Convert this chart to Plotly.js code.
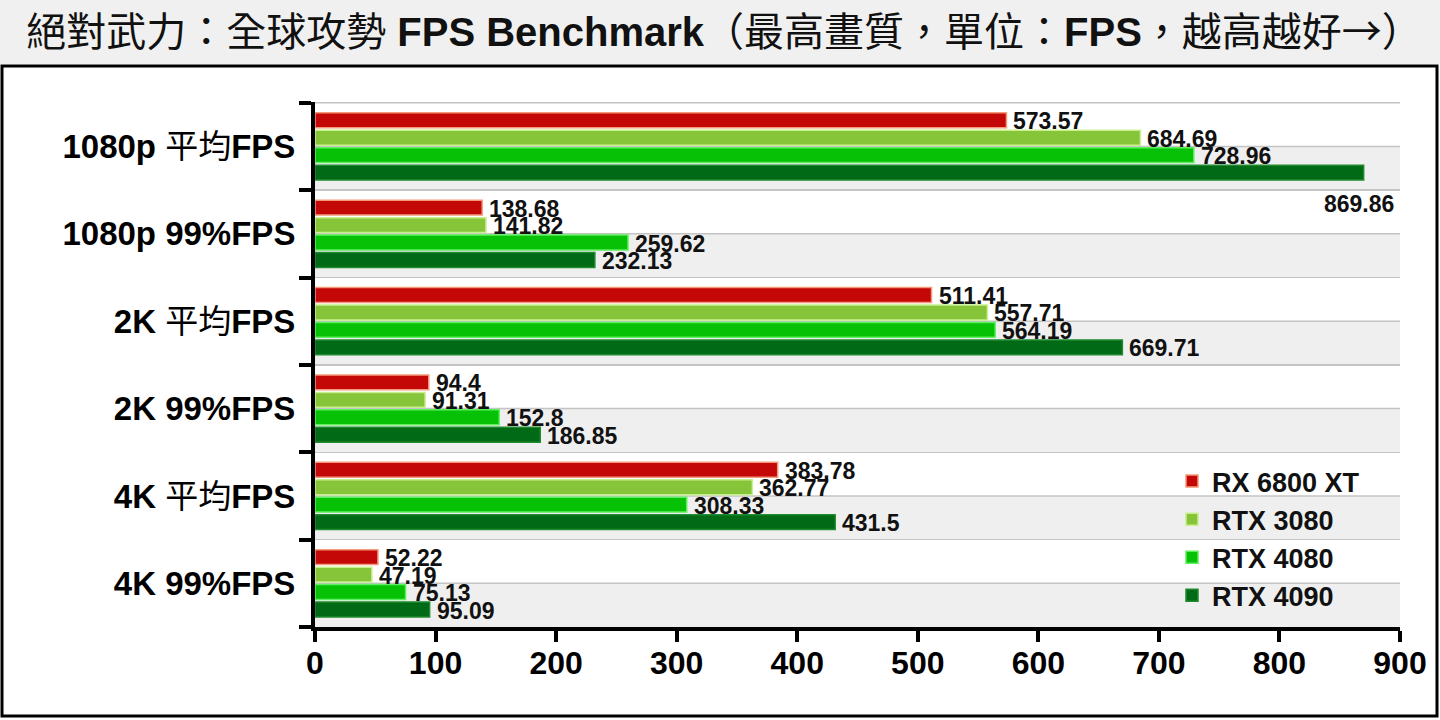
<!DOCTYPE html>
<html>
<head>
<meta charset="utf-8">
<script src="https://cdn.plot.ly/plotly-3.0.1.min.js"></script>
<style>
  html, body { margin: 0; padding: 0; background: #ffffff; }
  #chart { width: 1440px; height: 720px; }
</style>
</head>
<body>
<div id="chart"></div>
<script>
// ---- data ----
const categories = ['1080p 平均FPS', '1080p 99%FPS', '2K 平均FPS', '2K 99%FPS', '4K 平均FPS', '4K 99%FPS'];
const categoryTickText = [
  '<b>1080p</b> 平均<b>FPS</b>',
  '<b>1080p 99%FPS</b>',
  '<b>2K</b> 平均<b>FPS</b>',
  '<b>2K 99%FPS</b>',
  '<b>4K</b> 平均<b>FPS</b>',
  '<b>4K 99%FPS</b>'
];
const seriesNames = ['RX 6800 XT', 'RTX 3080', 'RTX 4080', 'RTX 4090'];
const rx6800xt = [573.57, 138.68, 511.41, 94.4, 383.78, 52.22];
const rtx3080  = [684.69, 141.82, 557.71, 91.31, 362.77, 47.19];
const rtx4080  = [728.96, 259.62, 564.19, 152.8, 308.33, 75.13];
const rtx4090  = [869.86, 232.13, 669.71, 186.85, 431.5, 95.09];
const xTickValues = [0, 100, 200, 300, 400, 500, 600, 700, 800, 900];
const titleText = '絕對武力：全球攻勢 <b>FPS Benchmark</b>（最高畫質，單位：<b>FPS</b>，越高越好<span style="font-family:Noto Sans CJK TC">→</span>）';

// ---- style ----
const seriesValues = [rx6800xt, rtx3080, rtx4080, rtx4090];
const fillColors = ['#c40707', '#86c43a', '#07c107', '#006a16'];
const edgeColors = ['#f39a7c', '#c9ef8e', '#5cf05c', '#1f8a2e'];
const FONT = 'Liberation Sans, Arial, "Noto Sans CJK TC", sans-serif';
const W = 1440, H = 720;
const M = {l: 315, r: 40, t: 102, b: 93};
const PW = W - M.l - M.r, PH = H - M.t - M.b;
const XMAX = 900;
const BARGAP = 0.2;
const nS = seriesValues.length;

const px2x = p => (p - M.l) / PW;
const py2y = p => (H - M.b - p) / PH;

const traces = seriesValues.map((vals, k) => ({
  type: 'bar',
  orientation: 'h',
  name: seriesNames[k],
  y: categories,
  x: vals,
  marker: {color: fillColors[k], line: {color: edgeColors[k], width: 1.5}},
  hoverinfo: 'skip'
}));

// value labels
const annotations = [];
seriesValues.forEach((vals, k) => {
  const off = -(1 - BARGAP) / 2 + (k + 0.5) * (1 - BARGAP) / nS;
  vals.forEach((v, i) => {
    const below = v > 0.93 * XMAX;
    annotations.push({
      x: v, y: i + off, xref: 'x', yref: 'y',
      text: String(v), showarrow: false,
      xanchor: below ? 'right' : 'left',
      yanchor: 'middle',
      xshift: below ? 32 : 5,
      yshift: below ? -31 : -1,
      font: {family: FONT, size: 23, color: '#111111', weight: 'bold'}
    });
  });
});

// background bands & lines
const shapes = [];
shapes.push({type: 'rect', xref: 'paper', yref: 'paper', x0: px2x(0), x1: px2x(W), y0: py2y(64), y1: py2y(0),
  fillcolor: '#f0f0f0', line: {width: 0}, layer: 'below'});
categories.forEach((c, i) => {
  shapes.push({type: 'rect', xref: 'paper', yref: 'y', x0: 0, x1: 1, y0: i, y1: i + 0.5,
    fillcolor: '#efefef', line: {width: 0}, layer: 'below'});
  shapes.push({type: 'line', xref: 'paper', yref: 'y', x0: 0, x1: 1, y0: i, y1: i,
    line: {color: '#c4c4c4', width: 1.5}, layer: 'below'});
});
shapes.push({type: 'line', xref: 'paper', yref: 'y', x0: 0, x1: 1, y0: -0.5, y1: -0.5,
  line: {color: '#c4c4c4', width: 1.5}, layer: 'below'});
shapes.push({type: 'rect', xref: 'paper', yref: 'paper', x0: px2x(2), x1: px2x(1437), y0: py2y(716), y1: py2y(66),
  fillcolor: 'rgba(0,0,0,0)', line: {color: '#000000', width: 3}, layer: 'below'});

const layout = {
  width: W, height: H,
  margin: M,
  paper_bgcolor: '#ffffff',
  plot_bgcolor: 'rgba(0,0,0,0)',
  font: {family: FONT, color: '#000000'},
  title: {
    text: titleText,
    x: 724 / W, xref: 'container', xanchor: 'center',
    y: 1 - 32 / H, yref: 'container', yanchor: 'middle',
    font: {family: FONT, size: 40, color: '#111111'}
  },
  barmode: 'group',
  bargap: BARGAP,
  bargroupgap: 0.15,
  showlegend: true,
  legend: {
    x: px2x(1172), y: py2y(457), xanchor: 'left', yanchor: 'top',
    bgcolor: 'rgba(0,0,0,0)', traceorder: 'normal',
    font: {family: FONT, size: 27, color: '#111111', weight: 'bold'},
    itemwidth: 30
  },
  xaxis: {
    range: [0, XMAX], tickvals: xTickValues, ticktext: xTickValues.map(String),
    showgrid: false, zeroline: false,
    showline: true, linecolor: '#000000', linewidth: 4,
    ticks: 'outside', ticklen: 11, tickwidth: 4, tickcolor: '#000000',
    ticklabelstandoff: -6,
    tickfont: {family: FONT, size: 32, color: '#000000', weight: 'bold'},
    fixedrange: true
  },
  yaxis: {
    type: 'category',
    categoryorder: 'array', categoryarray: categories,
    tickvals: categories, ticktext: categoryTickText,
    autorange: 'reversed',
    tickson: 'boundaries',
    showgrid: true, gridcolor: '#c4c4c4', gridwidth: 1.5,
    showline: true, linecolor: '#000000', linewidth: 4,
    ticks: 'outside', ticklen: 12, tickwidth: 4, tickcolor: '#000000',
    ticklabelstandoff: 9,
    tickfont: {family: FONT, size: 33, color: '#000000'},
    fixedrange: true
  },
  shapes: shapes,
  annotations: annotations
};

Plotly.newPlot('chart', traces, layout, {staticPlot: true, displayModeBar: false});
</script>
</body>
</html>
